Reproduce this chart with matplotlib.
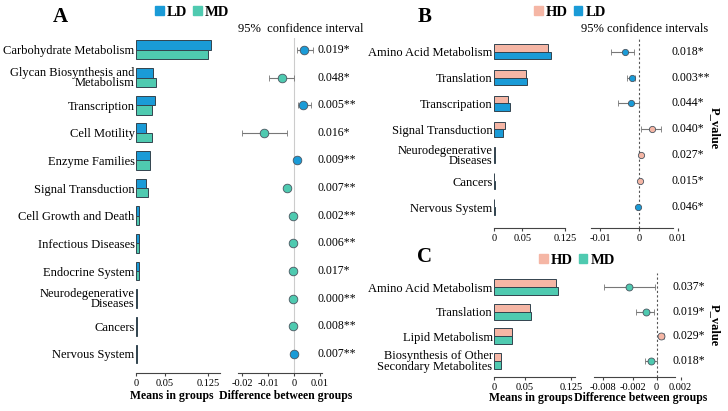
import matplotlib
matplotlib.use("Agg")
import matplotlib.pyplot as plt
from matplotlib.patches import Patch

plt.rcParams['font.family'] = ['Liberation Serif', 'DejaVu Serif']

# colours of the groups
LD_COL = "#1a9bd7"
MD_COL = "#4fcab0"
HD_COL = "#f5b6a5"

# ---- panel A : LD vs MD ----
a_pathways = ["Carbohydrate Metabolism", "Glycan Biosynthesis and\nMetabolism", "Transcription",
              "Cell Motility", "Enzyme Families", "Signal Transduction", "Cell Growth and Death",
              "Infectious Diseases", "Endocrine System", "Neurodegenerative\nDiseases", "Cancers",
              "Nervous System"]
a_ld = [0.129, 0.030, 0.032, 0.017, 0.025, 0.017, 0.006, 0.005, 0.005, 0.001, 0.001, 0.001]
a_md = [0.124, 0.035, 0.028, 0.028, 0.024, 0.020, 0.006, 0.005, 0.005, 0.001, 0.001, 0.001]
a_diff = [0.0040, -0.0047, 0.0036, -0.0114, 0.0012, -0.0026, -0.0004, -0.0004, -0.0005, -0.0004, -0.0002, 0.0001]
a_low = [0.0010, -0.0096, 0.0014, -0.0199, 0.0010, -0.0031, -0.0005, -0.0005, -0.0006, -0.0005, -0.0003, 0.0000]
a_high = [0.0072, 0.0001, 0.0064, -0.0028, 0.0014, -0.0021, -0.0003, -0.0003, -0.0004, -0.0003, -0.0001, 0.0002]
a_p = ["0.019*", "0.048*", "0.005**", "0.016*", "0.009**", "0.007**", "0.002**", "0.006**",
       "0.017*", "0.000**", "0.008**", "0.007**"]

# ---- panel B : HD vs LD ----
b_pathways = ["Amino Acid Metabolism", "Translation", "Transcripation", "Signal Transduction",
              "Neurodegenerative\nDiseases", "Cancers", "Nervous System"]
b_hd = [0.095, 0.056, 0.025, 0.019, 0.001, 0.0005, 0.0005]
b_ld = [0.100, 0.058, 0.029, 0.015, 0.001, 0.001, 0.001]
b_diff = [-0.0037, -0.0018, -0.0021, 0.0032, 0.0004, 0.0002, -0.0002]
b_low = [-0.0071, -0.0032, -0.0054, 0.0004, 0.0002, 0.0000, -0.0004]
b_high = [-0.0013, -0.0011, 0.0000, 0.0056, 0.0006, 0.0004, 0.0000]
b_p = ["0.018*", "0.003**", "0.044*", "0.040*", "0.027*", "0.015*", "0.046*"]

# ---- panel C : HD vs MD ----
c_pathways = ["Amino Acid Metabolism", "Translation", "Lipid Metabolism",
              "Biosynthesis of Other\nSecondary Metabolites"]
c_hd = [0.101, 0.059, 0.029, 0.011]
c_md = [0.104, 0.060, 0.029, 0.012]
c_diff = [-0.0023, -0.0009, 0.0004, -0.0005]
c_low = [-0.0044, -0.0017, 0.0002, -0.0010]
c_high = [-0.0001, -0.0002, 0.0006, 0.0000]
c_p = ["0.037*", "0.019*", "0.029*", "0.018*"]

W, H = 728, 411
fig = plt.figure(figsize=(W/100, H/100), dpi=100)


def box(left, top, width, bottom):
    # pixel box -> figure fraction
    return [left/W, 1 - bottom/H, width/W, (bottom - top)/H]


def bars(rect, names, v1, v2, c1, c2, ylim, xlim, h, fs):
    ax = fig.add_axes(rect)
    y = list(range(len(names)))
    ax.barh([i - h/2 for i in y], v1, height=h, color=c1, edgecolor="#33434e", linewidth=0.7)
    ax.barh([i + h/2 for i in y], v2, height=h, color=c2, edgecolor="#33434e", linewidth=0.7)
    ax.set_ylim(ylim)
    ax.set_xlim(xlim)
    ax.set_yticks(y)
    ax.set_yticklabels(names, fontsize=fs, linespacing=0.8)
    ax.set_xticks([0, 0.05, 0.125])
    ax.set_xticklabels(["0", "0.05", "0.125"], fontsize=7.5)
    ax.tick_params(axis="y", length=0, pad=1)
    ax.tick_params(axis="x", length=2, pad=2, color="#444")
    for s in ["top", "right", "left"]:
        ax.spines[s].set_visible(False)
    ax.spines["bottom"].set_color("#444")
    ax.spines["bottom"].set_linewidth(0.8)
    return ax


def ci(rect, diff, low, high, pvals, c_pos, c_neg, ylim, xlim, bounds, ticks, labels,
       ms, line_style, px):
    ax = fig.add_axes(rect)
    y = list(range(len(diff)))
    if line_style == "solid":
        ax.axvline(0, color="#cccccc", lw=0.8, zorder=0)
    else:
        ax.axvline(0, color="#555555", lw=0.8, ls=(0, (2, 2)), zorder=0)
    for i in y:
        col = c_pos if diff[i] > 0 else c_neg
        ax.errorbar(diff[i], i, xerr=[[diff[i] - low[i]], [high[i] - diff[i]]], fmt="o",
                    color="#666666", ecolor="#777777", elinewidth=0.8, capsize=2.5, capthick=0.8,
                    markersize=ms, markerfacecolor=col, markeredgecolor="#4a5560",
                    markeredgewidth=0.6)
        ax.text(px, i, pvals[i], transform=ax.get_yaxis_transform(), va="center", ha="left",
                fontsize=8.5, clip_on=False)
    ax.set_ylim(ylim)
    ax.set_xlim(xlim)
    ax.set_yticks([])
    ax.set_xticks(ticks)
    ax.set_xticklabels(labels, fontsize=7.5)
    ax.tick_params(axis="x", length=2, pad=2, color="#444")
    for s in ["top", "right", "left"]:
        ax.spines[s].set_visible(False)
    ax.spines["bottom"].set_bounds(*bounds)
    ax.spines["bottom"].set_color("#444")
    ax.spines["bottom"].set_linewidth(0.8)
    return ax


# panel A
bars(box(136, 38, 84, 373), a_pathways, a_ld, a_md, LD_COL, MD_COL,
     (11.69, -0.43), (0, 0.145), 0.34, 9)
ci(box(238, 38, 84, 373), a_diff, a_low, a_high, a_p, LD_COL, MD_COL,
   (11.69, -0.43), (-0.0215, 0.0108), (-0.0215, 0.0108),
   [-0.02, -0.01, 0, 0.01], ["-0.02", "-0.01", "0", "0.01"], 6.2, "solid", 0.95)

# panel B
bars(box(494, 38, 71, 228), b_pathways, b_hd, b_ld, HD_COL, LD_COL,
     (6.81, -0.53), (0, 0.125), 0.3, 9)
ci(box(591, 38, 89, 228), b_diff, b_low, b_high, b_p, HD_COL, LD_COL,
   (6.81, -0.53), (-0.0123, 0.0105), (-0.0123, 0.0087),
   [-0.01, 0, 0.01], ["-0.01", "0", "0.01"], 4.5, "dotted", 0.91)

# panel C
bars(box(494, 273, 81, 377), c_pathways, c_hd, c_md, HD_COL, MD_COL,
     (3.65, -0.57), (0, 0.131), 0.33, 9)
ci(box(593.5, 273, 88.2, 377), c_diff, c_low, c_high, c_p, HD_COL, MD_COL,
   (3.65, -0.57), (-0.00525, 0.0021), (-0.00525, 0.0015),
   [-0.0045, -0.002, 0, 0.002], ["-0.008", "-0.002", "0", "0.002"], 5, "dotted", 0.90)

# panel letters
for letter, x, y in [("A", 60, 17), ("B", 425, 17), ("C", 425, 257)]:
    fig.text(x/W, 1 - y/H, letter, fontsize=15, fontweight="bold", ha="center", va="center")

# legends
for c1, n1, c2, n2, x, y in [(LD_COL, "LD", MD_COL, "MD", 192, 12),
                             (HD_COL, "HD", LD_COL, "LD", 570, 12),
                             (HD_COL, "HD", MD_COL, "MD", 577, 260)]:
    fig.legend(handles=[Patch(color=c1, label=n1), Patch(color=c2, label=n2)],
               loc="center", bbox_to_anchor=(x/W, 1 - y/H), ncol=2, frameon=False,
               handlelength=0.6, handleheight=0.6, handletextpad=0.2, columnspacing=0.4,
               borderaxespad=0, borderpad=0,
               prop={"weight": "bold", "size": 10.5})

# headers
fig.text(301/W, 1 - 29/H, "95%  confidence interval", fontsize=9, ha="center", va="center")
fig.text(645/W, 1 - 29/H, "95% confidence intervals", fontsize=9, ha="center", va="center")

# P_value side labels
for y in [128, 325]:
    fig.text(715/W, 1 - y/H, "P_value", fontsize=9, fontweight="bold", rotation=-90,
             ha="center", va="center")

# axis titles
for txt, x, y in [("Means in groups", 172, 396), ("Difference between groups", 286, 396),
                  ("Means in groups", 531, 398), ("Difference between groups", 641, 398)]:
    fig.text(x/W, 1 - y/H, txt, fontsize=8.5, fontweight="bold", ha="center", va="center")

fig.savefig("out.png", dpi=100)
